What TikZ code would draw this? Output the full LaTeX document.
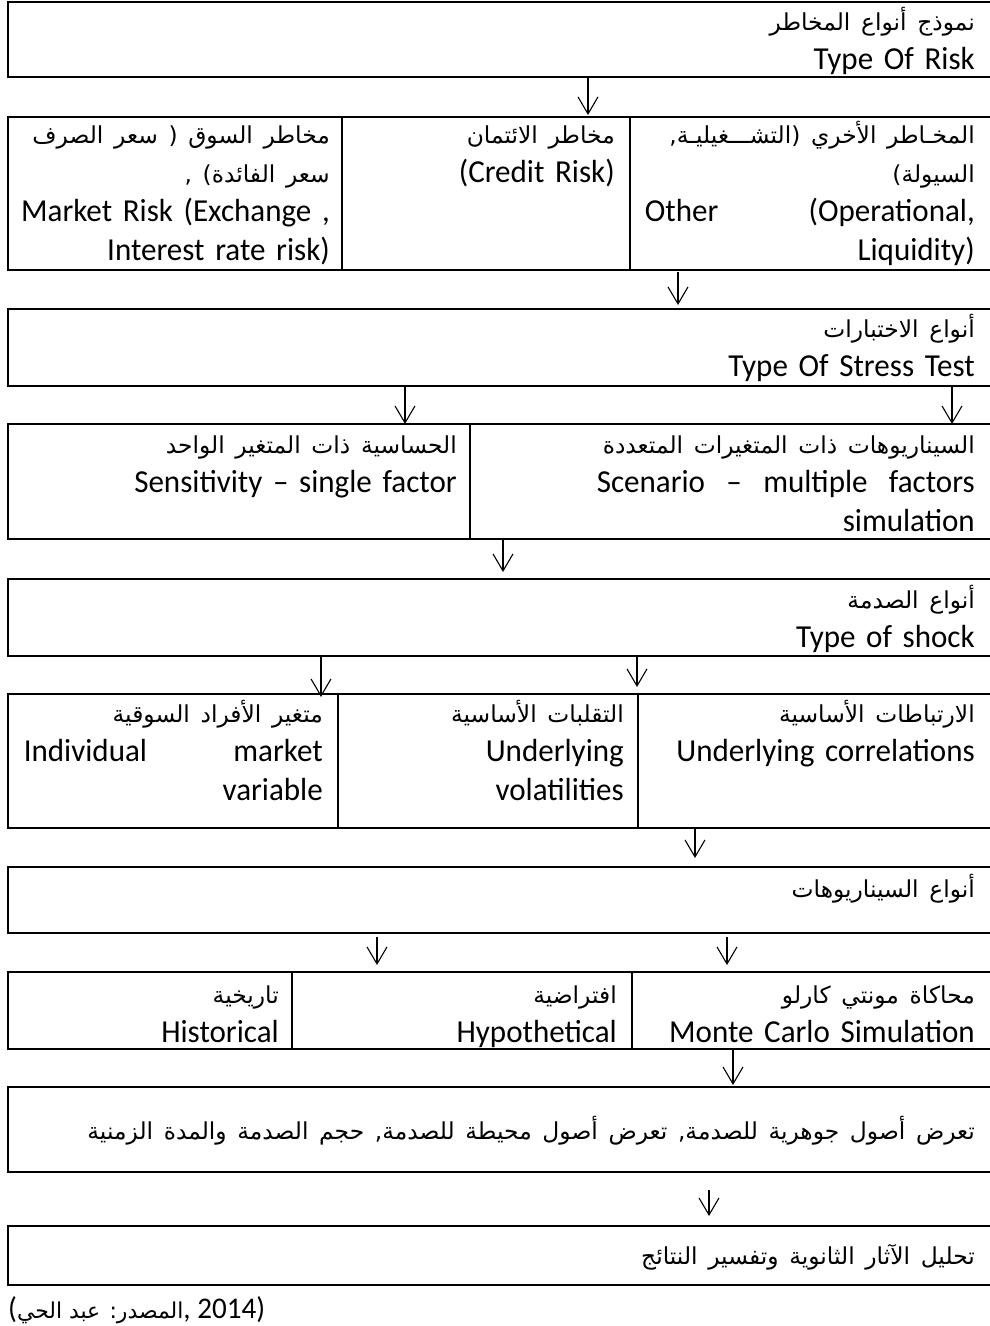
\documentclass[tikz,border=0pt]{standalone}
\usepackage{fontspec}
\setmainfont{Carlito}[FakeStretch=0.97]
\newfontfamily\arabicfont[Script=Arabic,Scale=0.73]{DejaVu Sans}
\TeXXeTstate=1
\usetikzlibrary{arrows.meta}
\newcommand{\ar}[1]{{\arabicfont\beginR #1\endR}}

\begin{document}
\begin{tikzpicture}[x=1pt,y=-1pt,
  box/.style={draw,line width=2.2pt,anchor=north west,inner sep=0,outer sep=0,minimum width=995pt},
  cellline/.style={line width=1.2pt},
  arr/.style={line width=1.1pt,-{Straight Barb[length=17pt,width=20pt]}},
  txt/.style={anchor=base east,inner sep=0,align=right,font=\fontsize{32}{39}\selectfont}]
\useasboundingbox (0,0) rectangle (989,1326);

% boxes
\node at (8,2) [box,minimum height=75pt] (b1) {};
\node at (8,117) [box,minimum height=153pt] (b2) {};
\node at (8,309) [box,minimum height=77pt] (b3) {};
\node at (8,424) [box,minimum height=115pt] (b4) {};
\node at (8,579) [box,minimum height=77pt] (b5) {};
\node at (8,694) [box,minimum height=134pt] (b6) {};
\node at (8,867) [box,minimum height=66pt] (b7) {};
\node at (8,972) [box,minimum height=77pt] (b8) {};
\node at (8,1087) [box,minimum height=85pt] (b9) {};
\node at (8,1226) [box,minimum height=59pt] (b10) {};

% cell borders
\foreach \bx/\dx in {b2/342,b2/630,b4/470,b6/338,b6/638,b8/292,b8/632}
  \draw[cellline] (\bx.north -| \dx,0) -- (\bx.south -| \dx,0);

% texts
\node at (975,30) [txt,text width=950pt] (t1) {\ar{نموذج أنواع المخاطر}\\ Type Of Risk};

\node at (330,143) [txt,text width=320pt] (t2a) {\ar{مخاطر السوق ( سعر الصرف}\\ \ar{سعر الفائدة) ,}\\ Market Risk (Exchange ,\\ Interest rate risk)};
\node at (615,143) [txt,text width=258pt] (t2b) {\ar{مخاطر الائتمان}\\ (Credit Risk)};
\node at (975,143) [txt,text width=330pt] (t2c) {\ar{المخـاطر الأخري (التشـــغيليـة,}\\ \ar{السيولة)}\\ \makebox[330pt][l]{Other\hfill(Operational,}\\ Liquidity)};

\node at (975,337) [txt,text width=950pt] (t3) {\ar{أنواع الاختبارات}\\ Type Of Stress Test};

\node at (457,453) [txt,text width=430pt] (t4a) {\ar{الحساسية ذات المتغير الواحد}\\ Sensitivity – single factor};
\node at (975,453) [txt,text width=490pt] (t4b) {\ar{السيناريوهات ذات المتغيرات المتعددة}\\ \makebox[378pt][l]{Scenario\hfill–\hfill multiple\hfill factors}\\ simulation};

\node at (975,608) [txt,text width=950pt] (t5) {\ar{أنواع الصدمة}\\ Type of shock};

\node at (323,722) [txt,text width=299pt] (t6a) {\ar{متغير الأفراد السوقية}\\ \makebox[299pt][l]{Individual\hfill market}\\ variable};
\node at (624,722) [txt,text width=270pt] (t6b) {\ar{التقلبات الأساسية}\\ Underlying\\ volatilities};
\node at (975,722) [txt,text width=320pt] (t6c) {\ar{الارتباطات الأساسية}\\ Underlying correlations};

\node at (975,897) [txt,text width=950pt] (t7) {\ar{أنواع السيناريوهات}};

\node at (279,1003) [txt,text width=255pt] (t8a) {\ar{تاريخية}\\ Historical};
\node at (617,1003) [txt,text width=300pt] (t8b) {\ar{افتراضية}\\ Hypothetical};
\node at (975,1003) [txt,text width=330pt] (t8c) {\ar{محاكاة مونتي كارلو}\\ Monte Carlo Simulation};

\node at (975,1139) [txt,text width=950pt] (t9) {\ar{تعرض أصول جوهرية للصدمة, تعرض أصول محيطة للصدمة, حجم الصدمة والمدة الزمنية}};
\node at (975,1264) [txt,text width=950pt] (t10) {\ar{تحليل الآثار الثانوية وتفسير النتائج}};

\node at (8,1318) [txt,anchor=base west,font=\fontsize{30}{36}\selectfont] (src) {(\ar{المصدر: عبد الحي}, 2014)};

% arrows
\coordinate (a1) at (588,0);
\coordinate (a2) at (678,0);
\coordinate (a3) at (405,0);
\coordinate (a4) at (952,0);
\coordinate (a5) at (503,0);
\coordinate (a6) at (321,0);
\coordinate (a7) at (637,0);
\coordinate (a8) at (695,0);
\coordinate (a9) at (377,0);
\coordinate (a10) at (727,0);
\coordinate (a11) at (733,0);
\coordinate (a12) at (709,0);
\draw[arr,shorten >=2pt] (b1.south -| a1) -- (b2.north -| a1);
\draw[arr,shorten <=2pt,shorten >=4pt] (b2.south -| a2) -- (b3.north -| a2);
\draw[arr] (b3.south -| a3) -- (b4.north -| a3);
\draw[arr] (b3.south -| a4) -- (b4.north -| a4);
\draw[arr,shorten >=7pt] (b4.south -| a5) -- (b5.north -| a5);
\draw[arr,shorten >=-3pt] (b5.south -| a6) -- (b6.north -| a6);
\draw[arr,shorten >=7pt] (b5.south -| a7) -- (b6.north -| a7);
\draw[arr,shorten >=9pt] (b6.south -| a8) -- (b7.north -| a8);
\draw[arr,shorten <=4pt,shorten >=7pt] (b7.south -| a9) -- (b8.north -| a9);
\draw[arr,shorten <=4pt,shorten >=7pt] (b7.south -| a10) -- (b8.north -| a10);
\draw[arr,shorten >=2pt] (b8.south -| a11) -- (b9.north -| a11);
\draw[arr,shorten <=18pt,shorten >=10pt] (b9.south -| a12) -- (b10.north -| a12);
\end{tikzpicture}
\end{document}
